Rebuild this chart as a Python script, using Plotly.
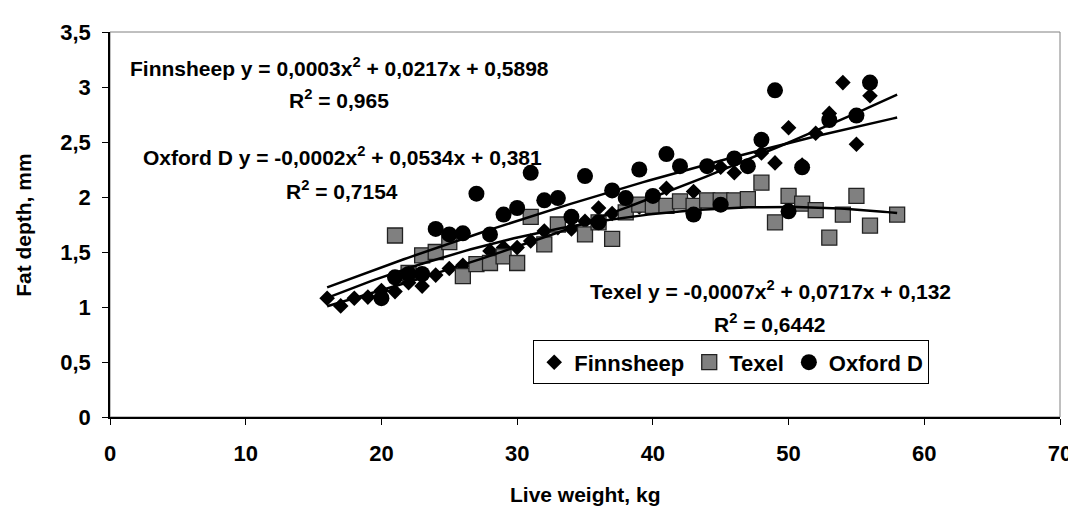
import numpy as np
import plotly.graph_objects as go

# Finnsheep (diamonds)
finn_x = [16, 17, 18, 19, 20, 21, 22, 23, 24, 25, 26, 28, 29, 30, 31, 32, 33, 34, 35, 36,
          37, 39, 41, 43, 45, 46, 48, 49, 50, 51, 52, 53, 54, 55, 56]
finn_y = [1.08, 1.01, 1.08, 1.09, 1.15, 1.14, 1.22, 1.19, 1.29, 1.35, 1.38, 1.51, 1.54, 1.54,
          1.60, 1.69, 1.72, 1.71, 1.78, 1.90, 1.85, 1.91, 2.08, 2.05, 2.27, 2.22, 2.40, 2.31,
          2.63, 2.29, 2.58, 2.76, 3.04, 2.48, 2.92]

# Texel (squares)
texel_x = [21, 22, 23, 24, 25, 26, 27, 28, 29, 30, 31, 32, 33, 35, 36, 37, 38, 39, 40, 41,
           42, 43, 44, 45, 46, 47, 48, 49, 50, 51, 52, 53, 54, 55, 56, 58]
texel_y = [1.65, 1.31, 1.47, 1.50, 1.59, 1.28, 1.39, 1.40, 1.46, 1.40, 1.82, 1.57, 1.75, 1.66,
           1.77, 1.62, 1.86, 1.93, 1.92, 1.92, 1.96, 1.92, 1.97, 1.97, 1.97, 1.98, 2.13, 1.77,
           2.01, 1.94, 1.88, 1.63, 1.84, 2.01, 1.74, 1.84]

# Oxford D (circles)
oxf_x = [20, 21, 22, 23, 24, 25, 26, 27, 28, 29, 30, 31, 32, 33, 34, 35, 36, 37, 38, 39, 40,
         41, 42, 43, 44, 45, 46, 47, 48, 49, 50, 51, 53, 55, 56]
oxf_y = [1.08, 1.27, 1.30, 1.30, 1.71, 1.66, 1.67, 2.03, 1.66, 1.84, 1.90, 2.22, 1.97, 1.99,
         1.82, 2.19, 1.77, 2.06, 1.99, 2.25, 2.01, 2.39, 2.28, 1.84, 2.28, 1.93, 2.35, 2.28,
         2.52, 2.97, 1.87, 2.27, 2.70, 2.74, 3.04]

eq_texts = [
    "Finnsheep y = 0,0003x<sup>2</sup> + 0,0217x + 0,5898",
    "Oxford D y = -0,0002x<sup>2</sup> + 0,0534x + 0,381",
    "Texel y = -0,0007x<sup>2</sup> + 0,0717x + 0,132",
]
r2_texts = ["R<sup>2</sup> = 0,965", "R<sup>2</sup> = 0,7154", "R<sup>2</sup> = 0,6442"]

FONT = "Liberation Sans, Arial, sans-serif"
W, H = 1076, 515
L, R, T, B = 102, 20, 17, 106
PW, PH = W - L - R, H - T - B


def px(x, y):
    return (x - L) / PW, (H - B - y) / PH


fig = go.Figure()
fig.add_trace(go.Scatter(x=finn_x, y=finn_y, mode="markers", name="Finnsheep",
                         marker=dict(symbol="diamond", size=12, color="black")))
fig.add_trace(go.Scatter(x=texel_x, y=texel_y, mode="markers", name="Texel",
                         marker=dict(symbol="square", size=15, color="#808080",
                                     line=dict(color="#222222", width=1.3))))
fig.add_trace(go.Scatter(x=oxf_x, y=oxf_y, mode="markers", name="Oxford D",
                         marker=dict(symbol="circle", size=16, color="black")))

# second order polynomial trendlines, spanning the shared x range
all_x = finn_x + texel_x + oxf_x
xs = np.linspace(min(all_x), max(all_x), 120)
for sx, sy in [(finn_x, finn_y), (texel_x, texel_y), (oxf_x, oxf_y)]:
    coef = np.polyfit(sx, sy, 2)
    fig.add_trace(go.Scatter(x=xs, y=np.polyval(coef, xs), mode="lines", showlegend=False,
                             hoverinfo="skip", line=dict(color="black", width=2.5)))

# equation labels (centre of each line, in pixels)
eq_pos = [(332, 53), (335, 143), (765, 280)]
r2_pos = [(332, 85), (335, 178), (765, 313)]
for txt, (cx, cy) in zip(eq_texts + r2_texts, eq_pos + r2_pos):
    ax, ay = px(cx, cy)
    fig.add_annotation(x=ax, y=ay, xref="paper", yref="paper", text=f"<b>{txt}</b>",
                       showarrow=False, xanchor="center", yanchor="middle",
                       font=dict(family=FONT, size=21, color="black"))

# axis titles
tx, ty = px(579, 488)
fig.add_annotation(x=tx, y=ty, xref="paper", yref="paper", text="<b>Live weight, kg</b>",
                   showarrow=False, xanchor="center", yanchor="middle",
                   font=dict(family=FONT, size=21, color="black"))
tx, ty = px(15, 213)
fig.add_annotation(x=tx, y=ty, xref="paper", yref="paper", text="<b>Fat depth, mm</b>",
                   showarrow=False, textangle=-90, xanchor="center", yanchor="middle",
                   font=dict(family=FONT, size=21, color="black"))

# grey frame on top/right
fig.add_shape(type="rect", xref="paper", yref="paper", x0=0, y0=0, x1=1, y1=1,
              line=dict(color="#808080", width=1), layer="below")

lx, ly = px(527, 331)
fig.update_layout(
    width=W, height=H,
    margin=dict(l=L, r=R, t=T, b=B),
    paper_bgcolor="white", plot_bgcolor="white",
    separators=", ",
    font=dict(family=FONT, color="black"),
    legend=dict(orientation="h", x=lx, y=ly, xanchor="left", yanchor="top",
                bordercolor="black", borderwidth=1, bgcolor="white",
                font=dict(family=FONT, size=22, color="black", weight="bold"),
                itemwidth=30, tracegroupgap=0),
    xaxis=dict(range=[0, 70], dtick=10, showgrid=False, zeroline=False,
               showline=True, linecolor="black", linewidth=1.5,
               ticks="outside", ticklen=6, tickcolor="black", ticklabelstandoff=10,
               tickfont=dict(family=FONT, size=22, color="black", weight="bold")),
    yaxis=dict(range=[0, 3.5], dtick=0.5, showgrid=False, zeroline=False,
               showline=True, linecolor="black", linewidth=1.5,
               ticks="outside", ticklen=6, tickcolor="black", ticklabelstandoff=7,
               tickfont=dict(family=FONT, size=22, color="black", weight="bold")),
    showlegend=True,
)

fig.write_html("out.html")
